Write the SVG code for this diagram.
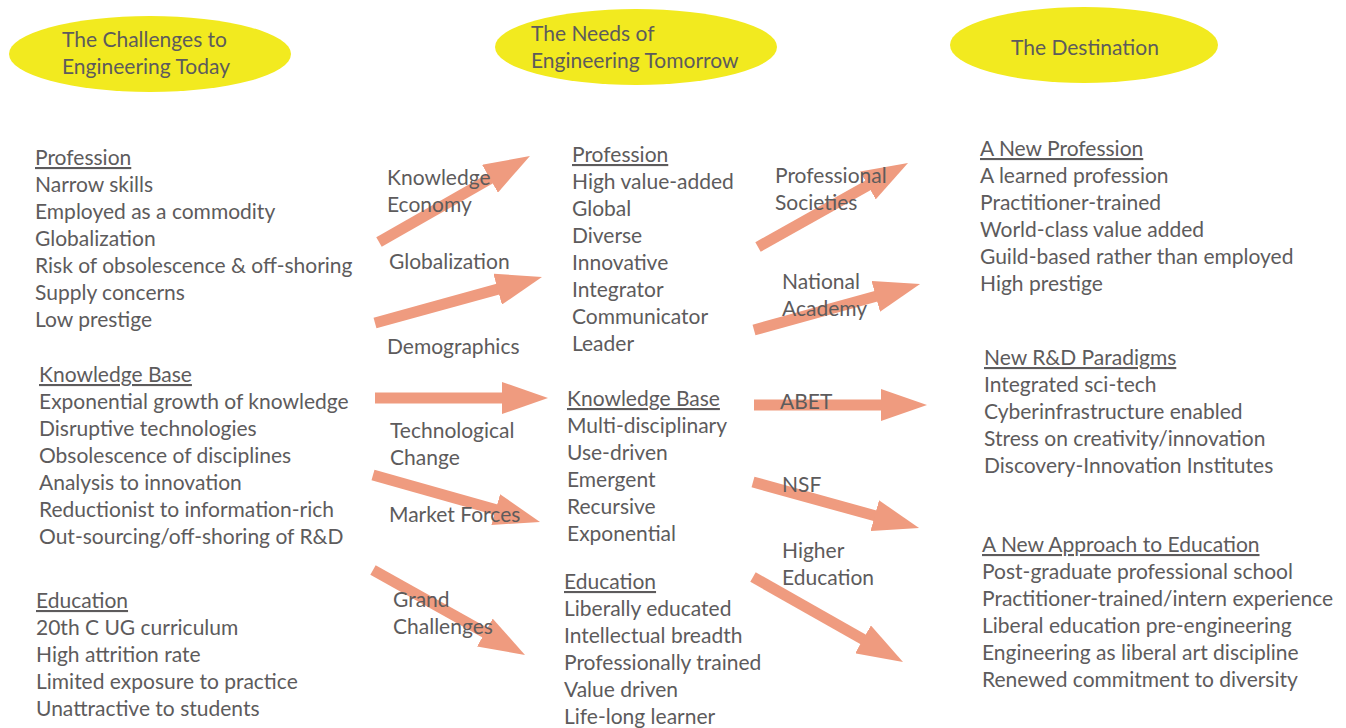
<svg xmlns="http://www.w3.org/2000/svg" width="1346" height="728" viewBox="0 0 1346 728">
<style>
text{font-family:"Lato","Open Sans","Liberation Sans",sans-serif;font-size:21px;fill:#5d5b5c}
.h{text-decoration:underline}
.ell{fill:#f2ea1f}
.arr{stroke:#ef9b7f;stroke-width:11;fill:none;marker-end:url(#head)}
</style>
<defs>
<marker id="head" viewBox="0 -16 46 32" refX="6" refY="0" markerWidth="46" markerHeight="32" markerUnits="userSpaceOnUse" orient="auto">
<path d="M0,-16 L46,0 L0,16 z" fill="#ef9b7f"/>
</marker>
</defs>
<rect width="1346" height="728" fill="#fff"/>
<g id="title1"><ellipse class="ell" cx="150" cy="54" rx="141" ry="38"/><text x="62" y="47">The Challenges to</text><text x="62" y="74">Engineering Today</text></g>
<g id="title2"><ellipse class="ell" cx="636" cy="47" rx="141" ry="38"/><text x="531" y="41">The Needs of</text><text x="531" y="68">Engineering Tomorrow</text></g>
<g id="title3"><ellipse class="ell" cx="1084" cy="45" rx="134" ry="38"/><text x="1011" y="55">The Destination</text></g>
<g id="connectors">
<line class="arr" x1="379" y1="242" x2="495.2" y2="175.8"/>
<line class="arr" x1="375" y1="323" x2="503.4" y2="287.6"/>
<line class="arr" x1="375" y1="398" x2="508" y2="398"/>
<line class="arr" x1="373" y1="475" x2="501.5" y2="511.2"/>
<line class="arr" x1="373" y1="570" x2="490.1" y2="635.5"/>
<line class="arr" x1="758" y1="247" x2="873.1" y2="182.5"/>
<line class="arr" x1="754" y1="330" x2="881.5" y2="294.7"/>
<line class="arr" x1="754" y1="405" x2="887" y2="405"/>
<line class="arr" x1="753" y1="482" x2="880.5" y2="517.3"/>
<line class="arr" x1="753" y1="577" x2="868.2" y2="642.3"/>
<text x="387" y="185">Knowledge</text><text x="387" y="212">Economy</text>
<text x="389" y="269">Globalization</text>
<text x="387" y="354">Demographics</text>
<text x="390" y="438">Technological</text><text x="390" y="465">Change</text>
<text x="389" y="522">Market Forces</text>
<text x="393" y="607">Grand</text><text x="393" y="634">Challenges</text>
<text x="775" y="183">Professional</text><text x="775" y="210">Societies</text>
<text x="782" y="289">National</text><text x="782" y="316">Academy</text>
<text x="780" y="409">ABET</text>
<text x="782" y="492">NSF</text>
<text x="782" y="558">Higher</text><text x="782" y="585">Education</text>
</g>
<g id="challenges-profession">
<text x="35" y="165" class="h">Profession</text>
<text x="35" y="192">Narrow skills</text>
<text x="35" y="219">Employed as a commodity</text>
<text x="35" y="246">Globalization</text>
<text x="35" y="273">Risk of obsolescence &amp; off-shoring</text>
<text x="35" y="300">Supply concerns</text>
<text x="35" y="327">Low prestige</text>
</g>
<g id="challenges-knowledge">
<text x="39" y="382" class="h">Knowledge Base</text>
<text x="39" y="409">Exponential growth of knowledge</text>
<text x="39" y="436">Disruptive technologies</text>
<text x="39" y="463">Obsolescence of disciplines</text>
<text x="39" y="490">Analysis to innovation</text>
<text x="39" y="517">Reductionist to information-rich</text>
<text x="39" y="544">Out-sourcing/off-shoring of R&amp;D</text>
</g>
<g id="challenges-education">
<text x="36" y="608" class="h">Education</text>
<text x="36" y="635">20th C UG curriculum</text>
<text x="36" y="662">High attrition rate</text>
<text x="36" y="689">Limited exposure to practice</text>
<text x="36" y="716">Unattractive to students</text>
</g>
<g id="needs-profession">
<text x="572" y="162" class="h">Profession</text>
<text x="572" y="189">High value-added</text>
<text x="572" y="216">Global</text>
<text x="572" y="243">Diverse</text>
<text x="572" y="270">Innovative</text>
<text x="572" y="297">Integrator</text>
<text x="572" y="324">Communicator</text>
<text x="572" y="351">Leader</text>
</g>
<g id="needs-knowledge">
<text x="567" y="406" class="h">Knowledge Base</text>
<text x="567" y="433">Multi-disciplinary</text>
<text x="567" y="460">Use-driven</text>
<text x="567" y="487">Emergent</text>
<text x="567" y="514">Recursive</text>
<text x="567" y="541">Exponential</text>
</g>
<g id="needs-education">
<text x="564" y="589" class="h">Education</text>
<text x="564" y="616">Liberally educated</text>
<text x="564" y="643">Intellectual breadth</text>
<text x="564" y="670">Professionally trained</text>
<text x="564" y="697">Value driven</text>
<text x="564" y="724">Life-long learner</text>
</g>
<g id="dest-profession">
<text x="980" y="156" class="h">A New Profession</text>
<text x="980" y="183">A learned profession</text>
<text x="980" y="210">Practitioner-trained</text>
<text x="980" y="237">World-class value added</text>
<text x="980" y="264">Guild-based rather than employed</text>
<text x="980" y="291">High prestige</text>
</g>
<g id="dest-rd">
<text x="984" y="365" class="h">New R&amp;D Paradigms</text>
<text x="984" y="392">Integrated sci-tech</text>
<text x="984" y="419">Cyberinfrastructure enabled</text>
<text x="984" y="446">Stress on creativity/innovation</text>
<text x="984" y="473">Discovery-Innovation Institutes</text>
</g>
<g id="dest-education">
<text x="982" y="552" class="h">A New Approach to Education</text>
<text x="982" y="579">Post-graduate professional school</text>
<text x="982" y="606">Practitioner-trained/intern experience</text>
<text x="982" y="633">Liberal education pre-engineering</text>
<text x="982" y="660">Engineering as liberal art discipline</text>
<text x="982" y="687">Renewed commitment to diversity</text>
</g>
</svg>
